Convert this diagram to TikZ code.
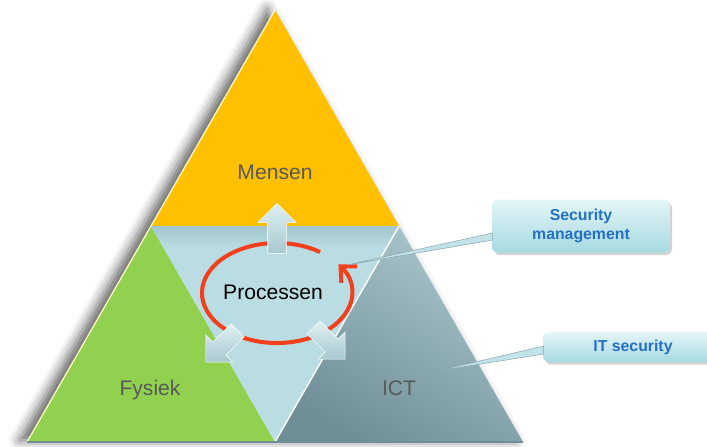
\documentclass[tikz,border=0pt]{standalone}
\usepackage{fontspec}
\setmainfont{Liberation Sans}
\usepackage{tkz-euclide}
\usetikzlibrary{calc,shapes.arrows,shadows,shadows.blur,arrows.meta}
\definecolor{mensen}{HTML}{FFC000}
\definecolor{fysiek}{HTML}{92D050}
\definecolor{proces}{HTML}{B9DDE3}
\definecolor{ictdark}{HTML}{6F8E96}
\definecolor{ictlight}{HTML}{ABC7CD}
\definecolor{cyclered}{HTML}{F2401C}
\definecolor{labelgrey}{HTML}{595959}
\definecolor{calloutblue}{HTML}{2370C4}
\definecolor{callouttop}{HTML}{E4F6F8}
\definecolor{calloutbot}{HTML}{A6D9E1}
\tikzset{>=stealth,
  layer/.style={font=\large, text=labelgrey},
  callout/.style={rounded corners=1.2mm, top color=callouttop, bottom color=calloutbot,
    drop shadow={opacity=0.35, shadow xshift=0.4mm, shadow yshift=-0.5mm},
    font=\small\bfseries, text=calloutblue, align=center, inner sep=0pt},
  pointer/.style={fill=calloutbot!70!white, draw=ictdark!80, line width=0.3pt},
  blockarrow/.style={single arrow, single arrow head extend=2mm, inner sep=1.8mm,
    top color=white!55!proces, bottom color=proces!75!ictdark, draw=white, line width=0.3pt}}

\begin{document}
\begin{tikzpicture}[x=0.2mm,y=-0.2mm]
\useasboundingbox (0,0) rectangle (707,446);
\clip (0,0) rectangle (707,446);
\tkzDefPoints{275/10/T, 27/442/L, 523/442/R, 151/226/P, 399/226/Q, 275/442/M, 277/293/C}
% pyramid
\fill[white, blur shadow={shadow xshift=-1.6mm, shadow yshift=0.3mm, shadow blur radius=2mm, shadow opacity=60}] (T) -- (L) -- (R) -- cycle;
\fill[mensen] (T) -- (P) -- (Q) -- cycle;
\fill[fysiek] (P) -- (L) -- (M) -- cycle;
\fill[proces] (P) -- (Q) -- (M) -- cycle;
\shade[top color=proces!70!ictdark, bottom color=proces] (P) -- (Q) -- ($(Q)!0.1!(M)$) -- ($(P)!0.1!(M)$) -- cycle;
\shade[top color=ictlight, bottom color=ictdark, shading angle=-30] (Q) -- (M) -- (R) -- cycle;
\draw[white, line width=0.8pt] (M) -- (Q);
\draw[yellow!25, line width=0.7pt] (L) -- (T);
\draw[ictdark, line width=0.8pt] (L) -- (R);
\node[layer] (mensen) at (275,172) {Mensen};
\node[layer] (fysiek) at (150,390) {Fysiek};
\node[layer] (ict) at (399,388) {ICT};
% cycle
\draw[cyclered, line width=2.3pt, -{Straight Barb[length=2.4mm,width=4.6mm]}]
  ($(C)+(55:15mm and 10mm)$) arc[start angle=55, end angle=395, x radius=15mm, y radius=10mm];
\node[font=\large] (proc) at (273,292) {Processen};
\node[blockarrow, rotate=90, minimum height=10mm] (up) at (277,233) {};
\node[blockarrow, rotate=225, minimum height=9mm] (dl) at (225,343) {};
\node[blockarrow, rotate=-45, minimum height=9mm] (dr) at (326,340) {};
% callouts
\node[callout, minimum width=35.6mm, minimum height=10.6mm] (secman) at (581,226) {Security\\management};
\node[callout, minimum width=36mm, minimum height=6mm] (itsec) at (633,347) {IT security};
\coordinate (smtip) at (347,265);
\coordinate (ittip) at (437,371);
\filldraw[pointer] ($(secman.west)+(1,7)$) -- (smtip) -- ($(secman.west)+(1,14)$) -- cycle;
\filldraw[pointer] ($(itsec.west)+(1,-1)$) -- (ittip) -- ($(itsec.west)+(1,7)$) -- cycle;
\end{tikzpicture}
\end{document}
